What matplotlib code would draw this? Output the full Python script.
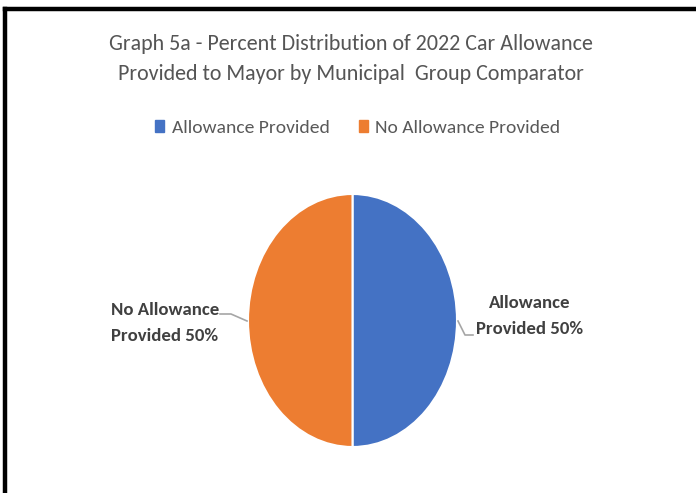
import numpy as np
import matplotlib.pyplot as plt
from matplotlib.lines import Line2D

labels = ['Allowance Provided', 'No Allowance Provided']
label_lines = [('Allowance', 'Provided'), ('No Allowance', 'Provided')]
shares = [50, 50]
colors = ['#4472C4', '#ED7D31']

plt.rcParams['font.family'] = ['Carlito', 'DejaVu Sans']

W, H = 696, 493
fig = plt.figure(figsize=(W / 100, H / 100), dpi=100)

# frame lines (top and left only)
fig.add_artist(Line2D([5 / W, 1], [1 - 9 / H, 1 - 9 / H], color='black', lw=3.2))
fig.add_artist(Line2D([5 / W, 5 / W], [0, 1 - 9 / H], color='black', lw=3.2))

# title
fig.text(351 / W, 1 - 50 / H, 'Graph 5a - Percent Distribution of 2022 Car Allowance',
         ha='center', va='baseline', fontsize=15.8, color='#555555')
fig.text(351 / W, 1 - 80 / H, 'Provided to Mayor by Municipal  Group Comparator',
         ha='center', va='baseline', fontsize=15.8, color='#555555')

# pie, stretched vertically
cx, cy, rx, ry = 352.5, 320.5, 104.5, 126.5
ax = fig.add_axes([(cx - rx) / W, 1 - (cy + ry) / H, 2 * rx / W, 2 * ry / H])
wedges, _ = ax.pie(shares, colors=colors, startangle=90, counterclock=False,
                   wedgeprops=dict(edgecolor='white', linewidth=1.5))
ax.set_aspect('auto')
ax.set_xlim(-1, 1)
ax.set_ylim(-1, 1)

def px(x, y):
    return (x - cx) / rx, (cy - y) / ry

# data labels with leader lines
lab_right = f'{label_lines[0][0]}\n{label_lines[0][1]} {shares[0]}%'
lab_left = f'{label_lines[1][0]}\n{label_lines[1][1]} {shares[1]}%'
ax.text(*px(530, 316), lab_right, ha='center', va='center', fontsize=13.5,
        fontweight='bold', color='#404040', linespacing=1.75)
ax.text(*px(165, 323), lab_left, ha='center', va='center', fontsize=13.5,
        fontweight='bold', color='#404040', linespacing=1.75)

for pts in ([(458, 321), (465, 335), (473, 335)], [(220, 314), (231, 314), (247, 321)]):
    xs, ys = zip(*[px(x, y) for x, y in pts])
    ax.plot(xs, ys, color='#A6A6A6', lw=1.2, clip_on=False)

# legend
handles = [plt.Rectangle((0, 0), 1, 1, color=c) for c in colors]
fig.legend(handles, labels, loc='center', bbox_to_anchor=(358 / W, 1 - 128 / H),
           ncol=2, frameon=False, fontsize=14, handlelength=0.45, handleheight=0.6,
           handletextpad=0.4, columnspacing=1.5, labelcolor='#595959')

fig.savefig('out.png', dpi=100)
